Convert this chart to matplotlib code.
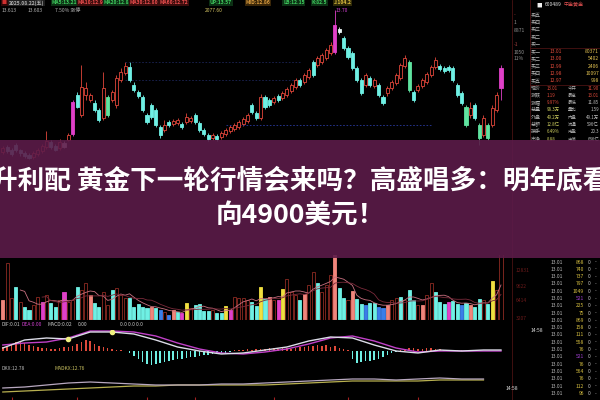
import matplotlib.pyplot as plt
import pandas as pd
from matplotlib.patches import Rectangle
from matplotlib.lines import Line2D

plt.rcParams['font.family'] = ['Noto Sans CJK SC', 'DejaVu Sans']

# daily K-line, yuan
opens = [12.28, 12.33, 12.30, 12.35, 12.30, 12.27, 12.25, 12.23, 12.26, 12.29,
         12.33, 12.38, 12.34, 12.32, 12.37, 12.40, 12.46, 12.85, 12.65, 12.85,
         12.80, 12.77, 12.70, 12.62, 12.83, 12.80, 12.75, 13.00, 13.07, 13.13,
         12.95, 12.88, 12.83, 12.65, 12.75, 12.70, 12.53, 12.50, 12.58, 12.56,
         12.57, 12.56, 12.58, 12.59, 12.65, 12.57, 12.50, 12.45, 12.42, 12.44,
         12.43, 12.46, 12.49, 12.51, 12.53, 12.56, 12.59, 12.75, 12.67, 12.62,
         12.83, 12.80, 12.78, 12.84, 12.82, 12.85, 12.89, 12.93, 13.00, 12.98,
         13.03, 13.18, 13.15, 13.18, 13.22, 13.27, 13.28, 13.51, 13.42, 13.32,
         13.27, 13.12, 13.00, 12.95, 13.02, 12.94, 12.95, 12.83, 12.87, 12.92,
         12.97, 13.02, 13.14, 13.18, 12.88, 12.90, 12.94, 12.98, 13.05, 13.13,
         13.14, 13.12, 13.13, 13.12, 12.95, 12.87, 12.73, 12.65, 12.75, 12.55,
         12.45, 12.55, 12.55, 12.70, 12.92]
closes = [12.32, 12.29, 12.26, 12.30, 12.27, 12.24, 12.22, 12.27, 12.30, 12.34,
          12.39, 12.33, 12.30, 12.38, 12.33, 12.45, 12.78, 12.73, 12.93, 12.92,
          12.85, 12.70, 12.60, 12.92, 12.65, 12.88, 13.02, 13.08, 13.14, 13.00,
          12.90, 12.84, 12.70, 12.58, 12.63, 12.55, 12.45, 12.55, 12.55, 12.59,
          12.60, 12.53, 12.63, 12.62, 12.58, 12.50, 12.46, 12.41, 12.45, 12.41,
          12.47, 12.50, 12.53, 12.55, 12.58, 12.61, 12.65, 12.68, 12.62, 12.83,
          12.73, 12.75, 12.82, 12.80, 12.87, 12.91, 12.95, 13.00, 12.95, 13.05,
          13.10, 13.05, 13.22, 13.25, 13.30, 13.35, 13.55, 13.48, 13.32, 13.23,
          13.12, 13.00, 12.87, 13.05, 12.95, 13.00, 12.85, 12.77, 12.92, 12.98,
          13.05, 13.15, 13.22, 12.90, 12.80, 12.94, 13.00, 13.06, 13.13, 13.20,
          13.11, 13.09, 13.10, 13.00, 12.85, 12.77, 12.55, 12.72, 12.62, 12.42,
          12.62, 12.42, 12.72, 12.85, 13.12]
highs = [12.34, 12.35, 12.32, 12.37, 12.31, 12.29, 12.27, 12.29, 12.32, 12.36,
         12.49, 12.40, 12.36, 12.41, 12.39, 12.47, 12.80, 12.88, 13.15, 12.98,
         12.87, 12.80, 12.72, 13.08, 12.85, 12.90, 13.05, 13.12, 13.18, 13.18,
         12.98, 12.90, 12.85, 12.67, 12.77, 12.72, 12.55, 12.60, 12.60, 12.61,
         12.62, 12.58, 12.67, 12.64, 12.67, 12.59, 12.52, 12.47, 12.47, 12.46,
         12.49, 12.52, 12.55, 12.57, 12.60, 12.63, 12.67, 12.77, 12.69, 12.86,
         12.85, 12.82, 12.84, 12.86, 12.89, 12.93, 12.97, 13.02, 13.02, 13.07,
         13.12, 13.20, 13.24, 13.27, 13.32, 13.38, 13.70, 13.53, 13.44, 13.34,
         13.29, 13.14, 13.02, 13.07, 13.04, 13.02, 12.97, 12.85, 12.94, 13.00,
         13.07, 13.17, 13.25, 13.20, 12.90, 12.96, 13.02, 13.08, 13.15, 13.23,
         13.16, 13.14, 13.15, 13.14, 12.97, 12.89, 12.75, 12.78, 12.77, 12.57,
         12.65, 12.57, 12.75, 12.88, 13.15]
lows = [12.26, 12.27, 12.24, 12.28, 12.24, 12.22, 12.21, 12.21, 12.24, 12.27,
        12.31, 12.31, 12.29, 12.30, 12.32, 12.39, 12.44, 12.72, 12.63, 12.80,
        12.78, 12.68, 12.58, 12.60, 12.63, 12.78, 12.72, 12.98, 13.05, 12.98,
        12.88, 12.82, 12.68, 12.56, 12.61, 12.53, 12.42, 12.48, 12.53, 12.54,
        12.55, 12.51, 12.56, 12.57, 12.56, 12.48, 12.44, 12.39, 12.40, 12.39,
        12.41, 12.44, 12.47, 12.49, 12.51, 12.54, 12.57, 12.66, 12.60, 12.60,
        12.71, 12.73, 12.76, 12.78, 12.80, 12.83, 12.87, 12.91, 12.93, 12.96,
        13.01, 13.03, 13.13, 13.16, 13.20, 13.25, 13.26, 13.46, 13.30, 13.21,
        13.10, 12.98, 12.85, 12.93, 12.93, 12.92, 12.83, 12.75, 12.84, 12.90,
        12.95, 13.00, 13.12, 12.88, 12.78, 12.88, 12.92, 12.96, 13.03, 13.11,
        13.09, 13.07, 13.08, 12.98, 12.83, 12.75, 12.53, 12.62, 12.60, 12.35,
        12.43, 12.40, 12.53, 12.68, 12.80]

# volume, 10k lots
volumes = [20, 57, 22, 33, 18, 13, 10, 15, 23, 18,
           25, 17, 13, 20, 28, 18, 20, 33, 30, 37,
           25, 17, 13, 28, 15, 30, 32, 25, 22, 22,
           13, 16, 13, 12, 13, 12, 10, 8, 5, 10,
           8, 7, 17, 12, 15, 16, 9, 9, 10, 7,
           7, 14, 10, 23, 22, 22, 20, 18, 14, 33,
           21, 23, 20, 20, 31, 41, 28, 25, 20, 26,
           35, 48, 37, 28, 35, 45, 70, 32, 22, 20,
           29, 21, 16, 15, 17, 17, 13, 12, 15, 20,
           22, 23, 20, 30, 20, 15, 15, 25, 37, 28,
           18, 16, 18, 19, 16, 15, 17, 15, 13, 21,
           20, 16, 39, 30, 70]

# MACD lines, read every 5 bars
macd_idx = [0, 5, 10, 15, 20, 25, 30, 35, 40, 45, 50, 55,
            60, 65, 70, 75, 80, 85, 90, 95, 100, 105, 110, 114]
dif = [0.03, 0.11, 0.13, 0.12, 0.19, 0.19, 0.17, 0.11, 0.04, 0.00, -0.03, -0.02,
       0.01, 0.04, 0.10, 0.14, 0.13, 0.06, 0.00, -0.02, 0.01, 0.00, 0.01, 0.01]
dea = [0.06, 0.08, 0.09, 0.13, 0.20, 0.20, 0.19, 0.15, 0.08, 0.02, -0.02, -0.03,
       -0.01, 0.02, 0.07, 0.13, 0.15, 0.10, 0.03, -0.01, 0.00, 0.00, 0.00, 0.00]
cross_idx = [15, 25]
macd_hist = [0.04, 0.04, 0.06, 0.09, 0.10, 0.08, 0.06, 0.05, 0.04, 0.03,
             0.03, 0.02, 0.02, 0.03, 0.04, 0.04, 0.05, 0.07, 0.09, 0.11,
             0.10, 0.07, 0.05, 0.04, 0.03, 0.02, 0.01, 0.01, 0.00, -0.02,
             -0.05, -0.08, -0.11, -0.13, -0.14, -0.13, -0.12, -0.11, -0.10, -0.09,
             -0.08, -0.08, -0.07, -0.06, -0.06, -0.05, -0.04, -0.04, -0.03, -0.03,
             -0.02, -0.02, -0.01, 0.01, 0.01, 0.01, 0.02, 0.01, 0.02, 0.02,
             0.02, 0.03, 0.03, 0.02, 0.03, 0.03, 0.02, 0.03, 0.04, 0.04,
             0.05, 0.05, 0.06, 0.05, 0.06, 0.04, 0.05, 0.03, 0.02, 0.01,
             -0.08, -0.12, -0.11, -0.10, -0.10, -0.09, -0.08, -0.06, -0.04, -0.02,
             -0.01, 0.01, 0.02, 0.03, 0.03, 0.02, 0.02, 0.03, 0.03, 0.02,
             0.02, 0.01, 0.01, 0.01, 0.01, 0.01, 0.00, 0.00, 0.00, 0.00,
             0.00, 0.00, 0.00, 0.00, 0.00]

# DKX / MADKX, every 5 bars
dkx_idx = list(range(0, 111, 5))
dkx = [12.60, 12.62, 12.66, 12.70, 12.72, 12.70, 12.68, 12.66, 12.66, 12.66, 12.68, 12.68,
       12.70, 12.72, 12.74, 12.76, 12.78, 12.78, 12.76, 12.78, 12.80, 12.78, 12.78]
madkx = [12.52, 12.54, 12.56, 12.58, 12.60, 12.62, 12.64, 12.64, 12.66, 12.66, 12.66, 12.66,
         12.66, 12.68, 12.70, 12.72, 12.74, 12.74, 12.74, 12.74, 12.76, 12.76, 12.76]

month_starts = [2, 17, 33, 44, 62, 79, 95]
levels = [13.18, 13.00, 12.55]
level_from = [28, 28, 51]
level_to = [68, 68, 98]

title_1 = '升利配 黄金下一轮行情会来吗？高盛唱多：明年底看'
title_2 = '向4900美元！'

# order book on the right
book_labels = ['卖五', '卖四', '卖三', '卖二', '卖一', '买一', '买二', '买三', '买四', '买五',
               '现价', '涨跌', '涨幅', '总量', '外盘', '总额', '换手', '市净']
bid_prices = ['13.01', '13.00', '12.99', '12.98', '12.97']
bid_sizes = ['80371', '5402', '2406', '10097', '998']
quote_values = ['13.01', '1.19', '9.97%', '98.3万', '49.2万', '12.8亿', '6.49%', '8.88']
quote_labels = ['今开', '最高', '最低', '量比', '内盘', '流通', '市盈', '市值']
quote_values2 = ['11.90', '13.01', '11.85', '1.59', '49.1万', '596亿', '20.3', '636亿']
tick_sizes = [868, 740, 737, 797, 1049, 521, 225, 75, 869, 158,
              111, 558, 76, 521, 76, 564, 76, 112, 96]

# ---- layout helpers (pixel boxes on a 600x400 canvas)
fig = plt.figure(figsize=(6, 4), dpi=100, facecolor='black')


def px_axes(x0, y0, x1, y1):
    ax = fig.add_axes([x0 / 600, 1 - y1 / 400, (x1 - x0) / 600, (y1 - y0) / 400])
    ax.set_facecolor('black')
    ax.set_axis_off()
    ax.set_xlim(-0.64, 114.92)
    return ax


def ftext(x, y, s, color, size=3.6, **kw):
    fig.text(x / 600, 1 - y / 400, s, color=color, fontsize=size, va='center', **kw)


def fline(xs, ys, color='#4a1212', lw=0.6):
    fig.add_artist(Line2D([x / 600 for x in xs], [1 - y / 400 for y in ys],
                          transform=fig.transFigure, color=color, lw=lw))


n = len(opens)
idx = list(range(n))

# ---- candles
magenta_days = [16, 76, 114]
green_days = [24, 93, 106, 109, 111]
white_days = [14, 77]

ax = px_axes(0, 0, 505, 160)
ax.set_ylim(12.20, 13.80)
for lv, a, b in zip(levels, level_from, level_to):
    c = '#2a3aa0' if lv < 12.6 else '#1c2458'
    ax.hlines(lv, a, b, colors=c, lw=0.6, linestyles=(0, (2, 2)))

for i in idx:
    up = closes[i] >= opens[i]
    if i in magenta_days:
        col, face = '#e040c8', '#e040c8'
    elif i in green_days:
        col, face = '#5fe3a0', '#5fe3a0'
    elif i in white_days:
        col, face = '#e8f4f4', '#e8f4f4'
    elif up:
        col, face = '#e0463a', 'black'
    else:
        col, face = '#6ff0e4', '#6ff0e4'
    ax.vlines(i, lows[i], highs[i], colors=col, lw=0.6, zorder=1)
    lo = min(opens[i], closes[i])
    h = max(abs(closes[i] - opens[i]), 0.012)
    ax.bar(i, h, bottom=lo, width=0.7, color=face, edgecolor=col, lw=0.6, zorder=2)

# ---- volume
vol_codes = ('srrcrccrrm' 'rccrmrrcrr' 'sccrrcrrrc' 'ccccscbrbs' 'cmyrccccrc'
             'cymrrrrccy' 'csrmyrrrcs' 'rrcrrrsccr' 'sccbccbbsr' 'rcrccrsrrc'
             'ccmccbcscc' 'rcyrr')
vol_face = {'s': '#f0857c', 'c': '#6ff0e4', 'm': '#e040c8', 'y': '#f0e040',
            'b': '#3a7ee8', 'r': 'black'}
axv = px_axes(0, 255, 505, 320)
axv.set_ylim(0, 65)
for i in idx:
    k = vol_codes[i]
    edge = '#8c2a22' if k == 'r' else vol_face[k]
    axv.bar(i, volumes[i], width=0.7, color=vol_face[k], edgecolor=edge, lw=0.6)
vs = pd.Series(volumes)
axv.plot(idx, vs.rolling(5).mean(), color='#c87080', lw=0.6)
axv.plot(idx, vs.rolling(10).mean(), color='#7a2a3a', lw=0.6)
axv.axhline(0, color='#5a1a14', lw=0.8)

# ---- MACD
axm = px_axes(0, 330, 505, 370)
axm.set_ylim(-0.19, 0.21)
hist_cols = ['#e04a3a' if v >= 0 else '#6ff0e4' for v in macd_hist]
axm.bar(idx, macd_hist, width=0.35, color=hist_cols)
axm.plot(macd_idx, dea, color='#c040c8', lw=1.0)
axm.plot(macd_idx, dif, color='#dcdce8', lw=1.0)
for c in cross_idx:
    k = macd_idx.index(c)
    axm.plot(c, dif[k], 'o', color='#f0f080', ms=3)

# ---- DKX
axd = px_axes(0, 370, 505, 400)
axd.set_ylim(12.36, 12.96)
axd.plot(dkx_idx, madkx, color='#b8b050', lw=0.9)
axd.plot(dkx_idx, dkx, color='#b8a8c0', lw=0.9)
axd.vlines(month_starts, 12.36, 12.42, colors='#a02020', lw=0.8)

# ---- header / panel labels (small coloured tags)
head = [(2, '■', '#d03030', '#300808'), (9, '2025.08.22(五)', '#b0b0b0', '#202020'),
        (52, 'MA5:13.21', '#40d060', '#0c3014'), (78, 'MA10:12.98', '#f05050', '#3a0c0c'),
        (104, 'MA20:12.85', '#40d060', '#0c3014'), (130, 'MA30:12.80', '#f05050', '#3a0c0c'),
        (160, 'MA60:12.72', '#f05050', '#3a0c0c'), (210, 'UP:13.57', '#40d060', '#0c3014'),
        (246, 'MID:12.86', '#e0a040', '#3a2608'), (283, 'LB:12.15', '#40d060', '#0c3014'),
        (312, 'K:82.5', '#40d060', '#0c3014'), (334, 'J:104.2', '#e0c040', '#302a08')]
for x, s, c, bg in head:
    ftext(x, 3, s, c, fontweight='bold',
          bbox=dict(facecolor=bg, edgecolor='none', pad=0.4))
for x, s, c in [(2, '13.613', '#b0b0b0'), (28, '13.603', '#b0b0b0'), (55, '7.50% 涨停', '#b0b0b0'),
                (205, '2077.60', '#d0c060'), (336, '13.70', '#d040d0')]:
    ftext(x, 10, s, c)
for x, s, c in [(1, 'DIF:0.01', '#c8c8c8'), (22, 'DEA:0.00', '#d040d0'),
                (48, 'MACD:0.02', '#c8c8c8'), (78, '0.00', '#c8c8c8'), (120, '0.0 0.0 0.0', '#c8c8c8')]:
    ftext(x, 324, s, c)
ftext(1, 368, 'DKX:12.78', '#b8b8b8')
ftext(55, 368, 'MADKX:12.76', '#c8c060')

# ---- right panel
fline([512, 512], [0, 400])
fline([530, 530], [0, 140])
fline([530, 600], [48, 48])
fline([530, 600], [85, 85])
ftext(536, 5, '■', '#f0f0f0', size=4)
ftext(545, 5, '600489', '#e0e0e0')
ftext(564, 5, '中金黄金', '#e05050')
for y, s in [(15, '-'), (22, '1'), (30, '8871'), (44, '-1'), (52, '1050'), (58, '11%')]:
    ftext(514, y, s, '#a04040' if s.startswith('-') else '#909090')
for k, lab in enumerate(book_labels):
    ftext(531, 15 + 7.3 * k, lab, '#b0b0b0')
for k in range(5):
    y = 15 + 7.3 * (k + 5)
    ftext(550, y, bid_prices[k], '#e04a3a')
    ftext(599, y, bid_sizes[k], '#e0c050', ha='right')
for k in range(8):
    y = 15 + 7.3 * (k + 10)
    ftext(547, y, quote_values[k], '#e04a3a' if k < 3 else '#d0d060', size=3.2)
    ftext(568, y, quote_labels[k], '#b0b0b0', size=3.2)
    ftext(599, y, quote_values2[k], '#e04a3a' if k < 2 else '#c0c0c0', ha='right', size=3.2)

for k, v in enumerate(tick_sizes):
    y = 262 + 7.3 * k
    ftext(551, y, '13.01', '#b8b8b8')
    ftext(584, y, str(v), '#a040d0' if k in (5, 13) else '#d8c040', ha='right')
    ftext(588, y, '0', '#c0c0c0')
    ftext(595, y, '-', '#c0c0c0')
for y, s in [(270, '12831'), (287, '9622'), (300, '6414'), (318, '3207')]:
    ftext(516, y, s, '#6a1a1a')
ftext(531, 330, '14:58', '#e0e0e0')
ftext(506, 388, '14:58', '#e0e0e0')

# ---- purple banner with the headline
fig.patches.append(Rectangle((0, 1 - 258 / 400), 1, 118 / 400, transform=fig.transFigure,
                             facecolor='#5c1b49', alpha=0.9, zorder=5))
fig.text(0.5, 1 - 181 / 400, title_1, color='white', fontsize=19.2, fontweight='bold',
         ha='center', va='center', zorder=6)
fig.text(0.5, 1 - 216 / 400, title_2, color='white', fontsize=19.2, fontweight='bold',
         ha='center', va='center', zorder=6)

plt.savefig('out.png', dpi=100, facecolor='black')
